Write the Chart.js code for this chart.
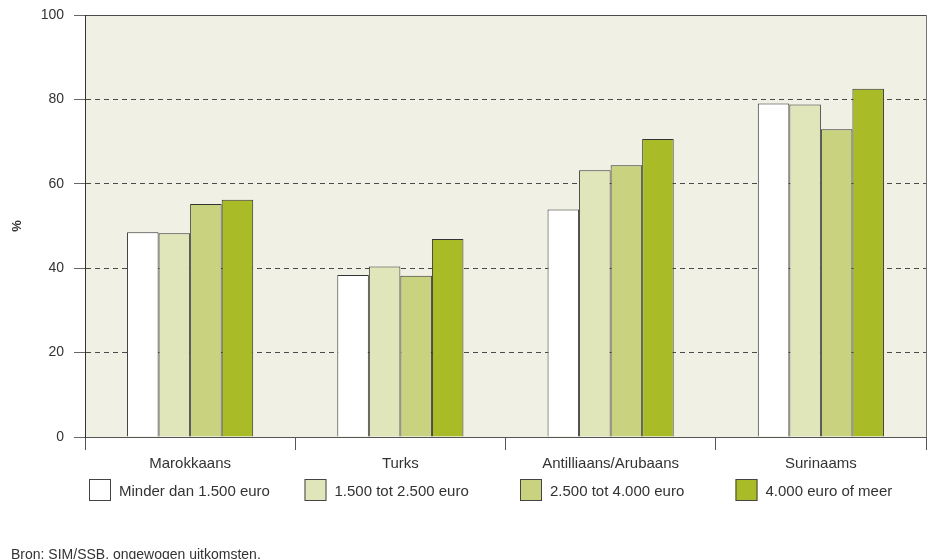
<!DOCTYPE html>
<html>
<head>
<meta charset="utf-8">
<script src="https://cdn.jsdelivr.net/npm/chart.js@4"></script>
<style>
  html, body { margin: 0; padding: 0; background: #fff; }
  #wrap { position: relative; width: 931px; height: 559px; }
</style>
</head>
<body>
<div id="wrap"><canvas id="chart" width="931" height="559"></canvas></div>
<script>
// data
const groups = ['Marokkaans', 'Turks', 'Antilliaans/Arubaans', 'Surinaams'];
const incomeLabels = ['Minder dan 1.500 euro', '1.500 tot 2.500 euro', '2.500 tot 4.000 euro', '4.000 euro of meer'];
const lowest = [48.5, 38.4, 53.9, 79.0];
const lowerMid = [48.3, 40.4, 63.2, 78.8];
const upperMid = [55.2, 38.2, 64.4, 72.9];
const highest = [56.2, 46.9, 70.6, 82.5];
const yTicks = [0, 20, 40, 60, 80, 100];
const sourceNote = 'Bron: SIM/SSB, ongewogen uitkomsten.';

const colors = ['#ffffff', '#e0e6b9', '#c9d27f', '#a9bc27'];
const font = '"Liberation Sans", Arial, sans-serif';

// plot background, frame lines, legend and source note
const decor = {
  id: 'decor',
  beforeDraw(chart) {
    const { ctx, chartArea: a } = chart;
    ctx.save();
    ctx.fillStyle = '#f0f1e4';
    ctx.fillRect(a.left, a.top, a.right - a.left, a.bottom - a.top);
    ctx.restore();
  },
  afterDraw(chart) {
    const { ctx, chartArea: a } = chart;
    ctx.save();
    // right frame
    ctx.strokeStyle = '#777';
    ctx.lineWidth = 1;
    ctx.beginPath();
    ctx.moveTo(a.right + 0.5, a.top);
    ctx.lineTo(a.right + 0.5, a.bottom);
    ctx.stroke();

    // legend
    ctx.font = '15px ' + font;
    ctx.textBaseline = 'middle';
    chart.data.datasets.forEach((ds, i) => {
      const x = 89 + i * 215.5;
      ctx.fillStyle = ds.backgroundColor;
      ctx.fillRect(x, 479, 22, 22);
      ctx.strokeStyle = '#444';
      ctx.strokeRect(x + 0.5, 479.5, 21, 21);
      ctx.fillStyle = '#333';
      ctx.fillText(ds.label, x + 30, 492);
    });

    // source (runs off the bottom edge like the original)
    ctx.font = '14px ' + font;
    ctx.textBaseline = 'alphabetic';
    ctx.fillText(sourceNote, 11, 559);
    ctx.restore();
  }
};

const sets = [lowest, lowerMid, upperMid, highest];

new Chart(document.getElementById('chart'), {
  type: 'bar',
  data: {
    labels: groups,
    datasets: sets.map((values, i) => ({
      label: incomeLabels[i],
      data: values,
      backgroundColor: colors[i],
      borderColor: '#333',
      borderWidth: 1,
      categoryPercentage: 0.6,
      barPercentage: 1.0
    }))
  },
  options: {
    responsive: false,
    animation: false,
    layout: { padding: { top: 15, right: 5, left: 0, bottom: 0 } },
    plugins: {
      legend: { display: false },
      tooltip: { enabled: false }
    },
    scales: {
      x: {
        afterFit: s => { s.height = 122; },
        grid: {
          drawOnChartArea: false,
          tickLength: 13,
          color: '#555',
          offset: true
        },
        border: { color: '#555', width: 1 },
        ticks: {
          color: '#333',
          font: { family: font, size: 15 },
          padding: 5
        }
      },
      y: {
        min: 0,
        max: 100,
        afterFit: s => { s.width = 85; s.paddingTop = 0; },
        afterBuildTicks: s => { s.ticks = yTicks.map(v => ({ value: v })); },
        grid: {
          color: c => (c.tick && c.tick.value === 0) ? 'rgba(0,0,0,0)' : '#4a4a4a',
          tickColor: '#666',
          tickLength: 11,
          tickBorderDash: []
        },
        border: {
          color: '#333',
          width: 1,
          dash: c => (c.tick && c.tick.value === 100) ? [] : [5, 4]
        },
        ticks: {
          color: '#333',
          font: { family: font, size: 14 },
          padding: 10
        },
        title: {
          display: true,
          text: '%',
          color: '#333',
          font: { family: font, size: 13, weight: 'bold' },
          padding: { top: 10, bottom: 0 }
        }
      }
    }
  },
  plugins: [decor]
});
</script>
</body>
</html>
